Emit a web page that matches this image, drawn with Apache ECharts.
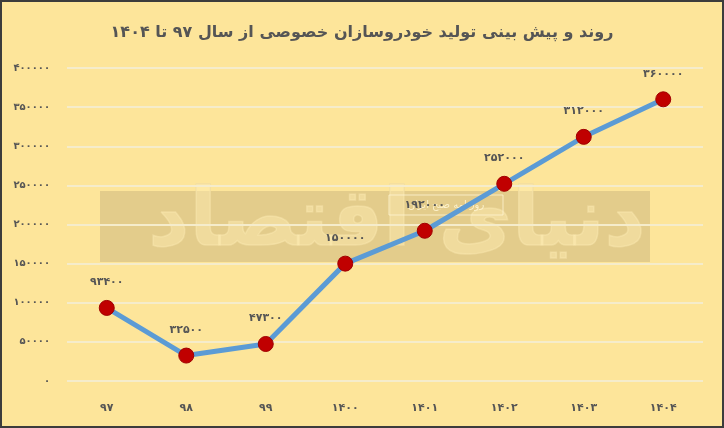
<!DOCTYPE html>
<html><head><meta charset="utf-8">
<script src="https://cdn.jsdelivr.net/npm/echarts@6/dist/echarts.min.js"></script>
<style>
html,body{margin:0;padding:0;background:#FDE59A;}
#c{width:724px;height:428px;box-sizing:border-box;border:2px solid #3c3c3c;}
</style></head><body><div id="c"></div>
<script>
const titleText = 'روند و پیش بینی تولید خودروسازان خصوصی از سال ۹۷ تا ۱۴۰۴';
const categories = ['۹۷','۹۸','۹۹','۱۴۰۰','۱۴۰۱','۱۴۰۲','۱۴۰۳','۱۴۰۴'];
const production = [93400, 32500, 47300, 150000, 192000, 252000, 312000, 360000];
const yTicks = [0, 50000, 100000, 150000, 200000, 250000, 300000, 350000, 400000];
const watermark = 'دنیای اقتصاد';
const watermarkSmall = 'روزنامه صبح ایران';

const fa = s => String(s).replace(/[0-9]/g, d => '۰۱۲۳۴۵۶۷۸۹'[d]);
const FONT = 'DejaVu Sans';
const chart = echarts.init(document.getElementById('c'));
chart.setOption({
  backgroundColor: '#FDE59A',
  animation: false,
  textStyle: {fontFamily: FONT},
  title: {
    text: titleText, left: 'center', top: 18,
    textStyle: {fontFamily: FONT, fontSize: 16, fontWeight: 'bold', color: '#555555'}
  },
  grid: {left: 65, right: 19, top: 66, bottom: 45},
  graphic: [
    {type: 'rect', z: 0, shape: {x: 98, y: 189, width: 550, height: 71},
     style: {fill: 'rgba(160,140,100,0.28)'}},
    {type: 'text', z: 0, x: 395, y: 222,
     style: {text: watermark, font: 'bold 80px "DejaVu Sans"', fill: 'rgba(255,238,180,0.45)',
             stroke: 'rgba(240,220,160,0.8)', lineWidth: 1.5, align: 'center', verticalAlign: 'middle'}},
    {type: 'rect', z: 0, shape: {x: 387, y: 193, width: 114, height: 20},
     style: {fill: 'rgba(0,0,0,0)', stroke: 'rgba(255,245,210,0.8)', lineWidth: 1}},
    {type: 'text', z: 0, x: 444, y: 203,
     style: {text: watermarkSmall, font: '10px "DejaVu Sans"', fill: 'rgba(255,245,210,0.9)',
             align: 'center', verticalAlign: 'middle'}}
  ],
  xAxis: {
    type: 'category', data: categories, boundaryGap: true,
    axisLine: {show: false}, axisTick: {show: false},
    axisLabel: {color: '#555555', fontSize: 11, fontWeight: 'bold', margin: 22, fontFamily: FONT}
  },
  yAxis: {
    type: 'value', min: yTicks[0], max: yTicks[yTicks.length - 1], interval: yTicks[1] - yTicks[0],
    axisLine: {show: false}, axisTick: {show: false},
    axisLabel: {color: '#555555', fontSize: 10, fontWeight: 'bold', margin: 17, fontFamily: FONT,
                formatter: v => fa(v)},
    splitLine: {lineStyle: {color: '#F5ECCB', width: 2}}
  },
  series: [{
    type: 'line', data: production, z: 5,
    lineStyle: {color: '#5B9BD5', width: 5},
    symbol: 'circle', symbolSize: 15,
    itemStyle: {color: '#C00000', borderColor: '#A00000', borderWidth: 1},
    label: {show: true, position: 'top', distance: 12, color: '#555555', fontSize: 11,
            fontWeight: 'bold', fontFamily: FONT, formatter: p => fa(p.value)}
  }]
});
</script></body></html>
